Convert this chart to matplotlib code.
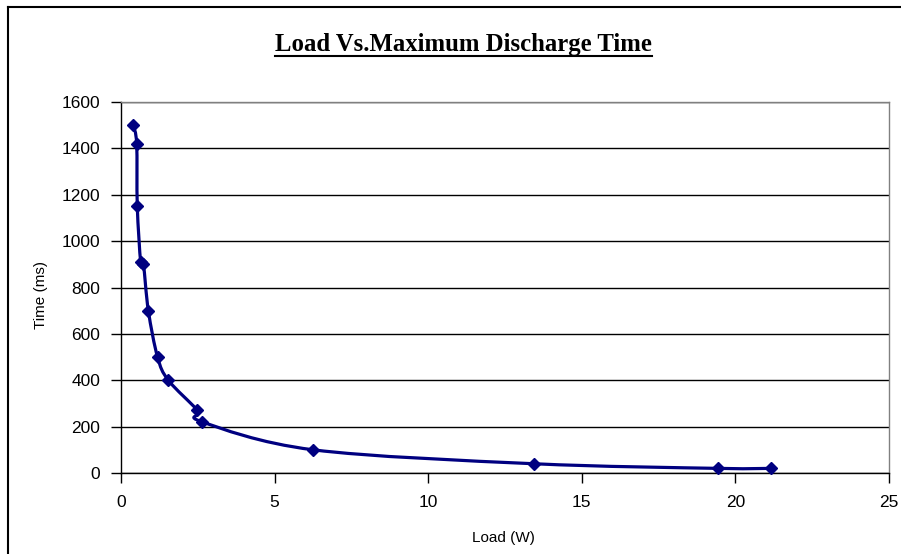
import numpy as np
import matplotlib
matplotlib.use("Agg")
import matplotlib.pyplot as plt
from matplotlib.path import Path
from matplotlib.patches import PathPatch
from matplotlib.lines import Line2D

# Measured load (W) and maximum discharge time (ms)
load_w = [0.40, 0.51, 0.53, 0.64, 0.73, 0.89, 1.19, 1.54, 2.49, 2.65, 6.26, 13.43, 19.42, 21.16]
time_ms = [1500, 1420, 1150, 910, 900, 700, 500, 400, 270, 220, 100, 40, 20, 20]

x_ticks = [0, 5, 10, 15, 20, 25]
y_ticks = [0, 200, 400, 600, 800, 1000, 1200, 1400, 1600]

title = "Load Vs.Maximum Discharge Time"
x_label = "Load (W)"
y_label = "Time (ms)"

navy = "#000080"

plt.rcParams["font.family"] = ["Liberation Sans", "DejaVu Sans"]

W, H = 901, 554
fig = plt.figure(figsize=(W / 100, H / 100), dpi=100)
fig.patch.set_facecolor("white")

# plot area in pixel coordinates
left, right, top, bottom = 121, 889, 102, 473
ax = fig.add_axes([left / W, 1 - bottom / H, (right - left) / W, (bottom - top) / H])
ax.set_xlim(0, 25)
ax.set_ylim(0, 1600)
ax.set_xticks(x_ticks)
ax.set_yticks(y_ticks)
ax.set_xticklabels([str(t) for t in x_ticks], fontsize=12.5)
ax.set_yticklabels([str(t) for t in y_ticks], fontsize=12.5)
ax.tick_params(axis="both", direction="out", length=7, width=1, color="black")
ax.tick_params(axis="y", pad=8)
ax.tick_params(axis="x", pad=9)

for s in ("left", "bottom"):
    ax.spines[s].set_color("black")
    ax.spines[s].set_linewidth(1)
for s in ("top", "right"):
    ax.spines[s].set_color("#808080")
    ax.spines[s].set_linewidth(1)

ax.grid(axis="y", color="black", linewidth=1)
ax.set_axisbelow(True)

# smoothed connecting curve (Catmull-Rom -> cubic Bezier in normalised space)
aspect = (bottom - top) / (right - left)
xs = np.array(load_w) / 25.0
ys = np.array(time_ms) / 1600.0 * aspect
pts = np.column_stack([xs, ys])
n = len(pts)
verts = [pts[0]]
codes = [Path.MOVETO]
tension = 1.0 / 6.0
for i in range(n - 1):
    p0 = pts[i - 1] if i > 0 else pts[i]
    p1 = pts[i]
    p2 = pts[i + 1]
    p3 = pts[i + 2] if i + 2 < n else pts[i + 1]
    c1 = p1 + (p2 - p0) * tension
    c2 = p2 - (p3 - p1) * tension
    verts += [c1, c2, p2]
    codes += [Path.CURVE4] * 3
verts = np.array(verts)
verts[:, 0] *= 25.0
verts[:, 1] *= 1600.0 / aspect
curve = PathPatch(Path(verts, codes), facecolor="none", edgecolor=navy,
                  linewidth=2.3, capstyle="round", joinstyle="round", zorder=3)
ax.add_patch(curve)

ax.plot(load_w, time_ms, linestyle="none", marker="D", markersize=6.5,
        color=navy, markeredgecolor=navy, zorder=4, clip_on=False)

ax.set_xlabel(x_label, fontsize=11)
ax.set_ylabel(y_label, fontsize=11)
ax.xaxis.set_label_coords((503 - left) / (right - left), (bottom - 538) / (bottom - top))
ax.yaxis.set_label_coords((41 - left) / (right - left), (bottom - 295) / (bottom - top))
ax.xaxis.label.set_va("center")
ax.yaxis.label.set_va("center")

# title with underline
t = fig.text(463.5 / W, 1 - 45 / H, title, ha="center", va="center",
             fontsize=17.8, fontweight="bold", family=["Liberation Serif", "DejaVu Serif"])
fig.canvas.draw()
bb = t.get_window_extent(renderer=fig.canvas.get_renderer())
uy = bb.y0 + 1
fig.add_artist(Line2D([bb.x0 / W, bb.x1 / W], [uy / H, uy / H],
                      transform=fig.transFigure, color="black", linewidth=1.5))

# chart area border (left and top edges visible)
fig.add_artist(Line2D([8 / W, 8 / W], [0, 1 - 7 / H], transform=fig.transFigure,
                      color="black", linewidth=1.5))
fig.add_artist(Line2D([8 / W, 1], [1 - 7 / H, 1 - 7 / H], transform=fig.transFigure,
                      color="black", linewidth=1.5))

fig.savefig("out.png", dpi=100, facecolor="white")
